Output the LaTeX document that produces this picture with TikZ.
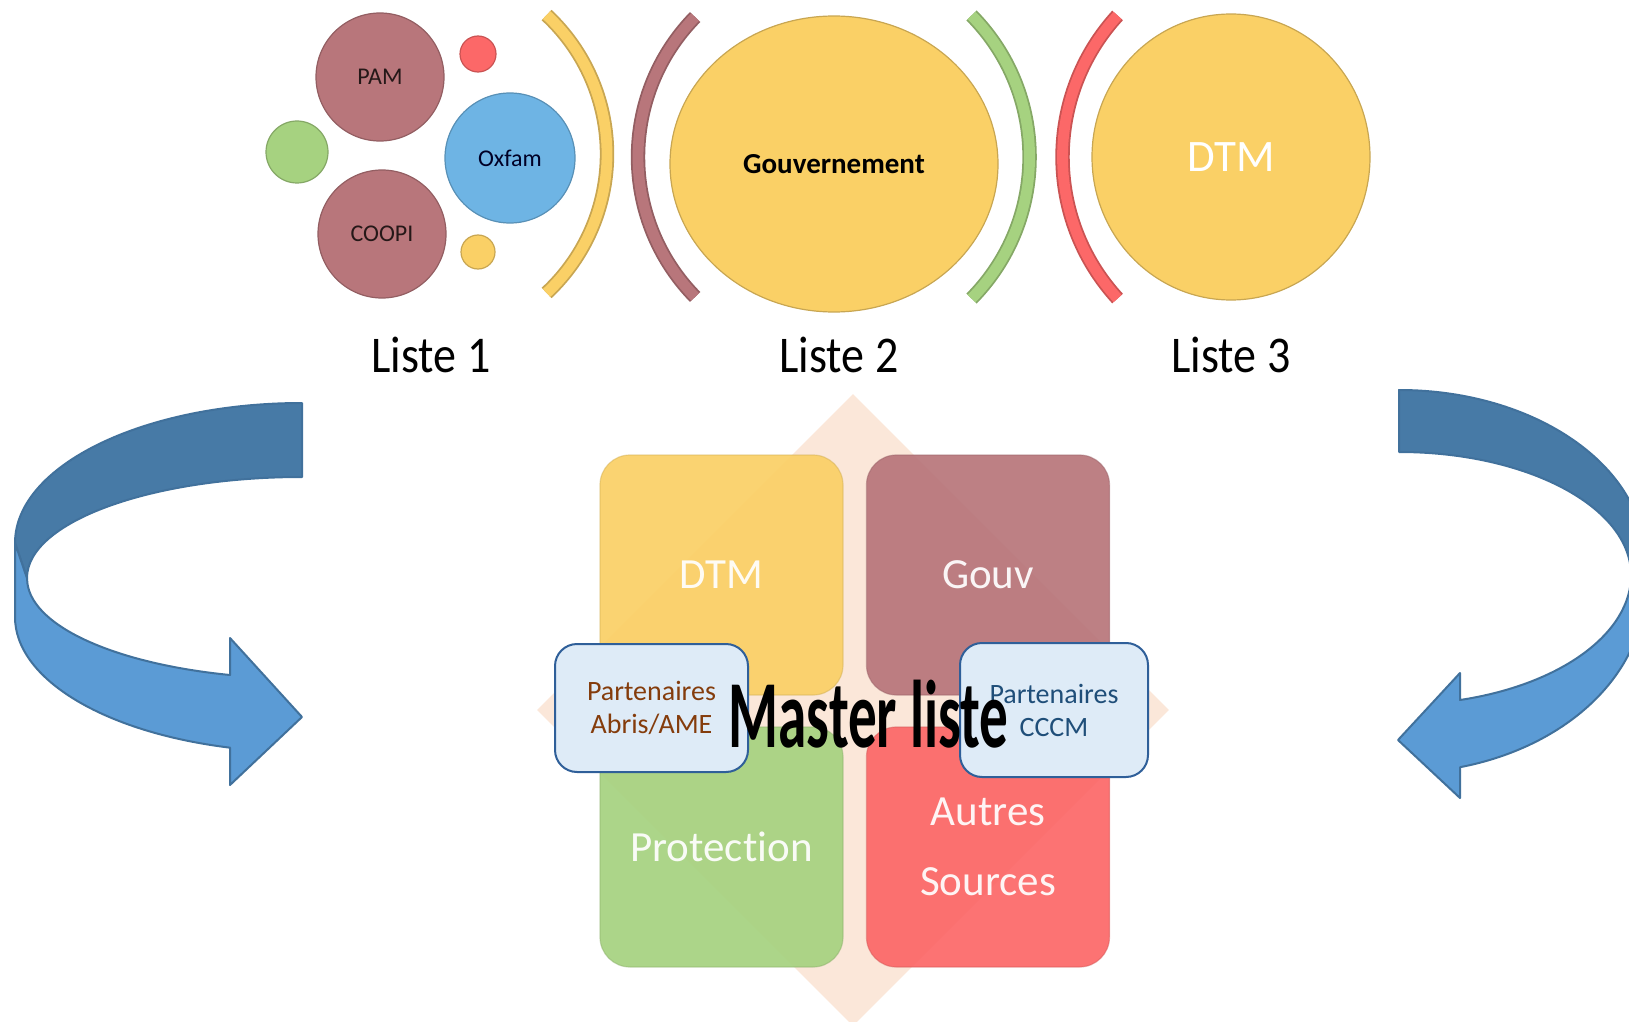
\documentclass[tikz,border=0pt]{standalone}
\usepackage{fontspec}
\setmainfont{Carlito}[Ligatures=NoCommon]
\usetikzlibrary{shapes.geometric,positioning}

\definecolor{sunny}{RGB}{250,208,102}
\definecolor{rosewood}{RGB}{184,118,123}
\definecolor{skyblob}{RGB}{110,180,228}
\definecolor{leafy}{RGB}{166,210,128}
\definecolor{coral}{RGB}{252,104,104}
\definecolor{peach}{RGB}{251,231,217}
\definecolor{arrowback}{RGB}{71,122,166}
\definecolor{arrowfront}{RGB}{91,155,213}
\definecolor{arrowline}{RGB}{65,113,156}
\definecolor{notefill}{RGB}{222,235,247}
\definecolor{noteline}{RGB}{47,95,153}
\definecolor{rusttext}{RGB}{132,60,12}
\definecolor{navytext}{RGB}{31,78,121}

\tikzset{
	bubble/.style={circle,inner sep=0pt,fill=#1,draw=#1!80!black,line width=0.6pt},
	blob/.style={ellipse,inner sep=0pt,fill=#1,draw=#1!80!black,line width=0.6pt},
	bracket/.style={draw=#1!80!black,line width=0.9pt,double=#1,double distance=5.4pt},
	ribbon/.style={fill=#1,draw=arrowline,line width=1pt,line join=round},
	tile/.style={fill=#1,fill opacity=0.93,draw=#1!85!black,draw opacity=0.5,line width=0.6pt,
		rounded corners=15pt,inner sep=0pt,minimum width=121.5pt,minimum height=120pt,
		text=white,font=\fontsize{21.5}{35}\selectfont,align=center},
	note/.style={fill=notefill,draw=noteline,line width=1pt,rounded corners=11pt,inner sep=0pt,
		align=center,font=\fontsize{14}{16.5}\selectfont},
	liste/.style={anchor=base,font=\fontsize{23}{26}\selectfont}
}

\begin{document}
\begin{tikzpicture}[x=0.5pt,y=-0.5pt]
		\useasboundingbox (0,0) rectangle (1629,1022);

		\draw[ribbon=arrowback]
			(302,403) arc[start angle=270,end angle=180,x radius=287,y radius=140]
			-- (27,578) arc[start angle=180,end angle=270,x radius=275,y radius=101] -- cycle;
		\draw[ribbon=arrowfront]
			(15,543) -- (15,617) arc[start angle=180,end angle=104.5,x radius=287,y radius=135]
			-- (230,785) -- (302,717) -- (230,638) -- (230,675)
			arc[start angle=105.2,end angle=180,x radius=275,y radius=100] -- cycle;

		\draw[ribbon=arrowback]
			(1399,390) arc[start angle=270,end angle=360,x radius=246,y radius=170]
			-- (1631,575) arc[start angle=0,end angle=-90,x radius=232,y radius=123] -- cycle;
		\draw[ribbon=arrowfront]
			(1645,560) -- (1645,588) arc[start angle=0,end angle=75.6,x radius=246,y radius=185]
			-- (1460,798) -- (1398,740) -- (1460,673) -- (1460,700)
			arc[start angle=74.8,end angle=0,x radius=232,y radius=130] -- cycle;

		\node[bubble=rosewood,minimum size=64pt,text=black!80!rosewood,font=\fontsize{12}{14}\selectfont] (pam) at (380,77) {PAM};
		\node[bubble=rosewood,minimum size=64pt,text=black!80!rosewood,font=\fontsize{12}{14}\selectfont] (coopi) at (382,234) {COOPI};
		\node[bubble=skyblob,minimum size=65pt,text=black!85!blue,font=\fontsize{12}{14}\selectfont] (oxfam) at (510,158) {Oxfam};
		\node[bubble=leafy,minimum size=31pt] (dotgreen) at (297,152) {};
		\node[bubble=coral,minimum size=18pt] (dotred) at (478,54) {};
		\node[bubble=sunny,minimum size=17pt] (dotyellow) at (478,252) {};

		\draw[bracket=sunny] ([shift={(-47:190)}]417,154) arc[start angle=-47,end angle=47,radius=190];
		\draw[bracket=rosewood] ([shift={(135.6:200)}]838,157) arc[start angle=135.6,end angle=224.4,radius=200];
		\draw[bracket=leafy] ([shift={(-44.6:201.6)}]828,157) arc[start angle=-44.6,end angle=44.6,radius=201.6];
		\draw[bracket=coral] ([shift={(137.5:209.5)}]1272,157) arc[start angle=137.5,end angle=222.5,radius=209.5];

		\node[blob=sunny,minimum width=164pt,minimum height=148pt,font=\fontsize{14.5}{17}\selectfont\bfseries] (gouv) at (834,164) {Gouvernement};
		\node[blob=sunny,minimum width=139pt,minimum height=143pt,text=white,font=\fontsize{22.5}{26}\selectfont] (dtm) at (1231,157) {DTM};

		\node[liste] (liste1) at (431,372) {\scalebox{1}[1.12]{Liste 1}};
		\node[liste] (liste2) at (839,372) {\scalebox{1}[1.12]{Liste 2}};
		\node[liste] (liste3) at (1231,372) {\scalebox{1}[1.12]{Liste 3}};

		\node[diamond,fill=peach,inner sep=0pt,minimum width=316pt,minimum height=316pt] (backdrop) at (853,710) {};

		\node[tile=sunny] (tdtm) at (721.5,575) {DTM};
		\node[tile=rosewood] (tgouv) at (988,575) {Gouv};
		\node[tile=leafy] (tprot) at (721.5,847) {Protection};
		\node[tile=coral] (tautres) at (988,847) {Autres\\Sources};

		\node[note,minimum width=96.5pt,minimum height=64pt,text=rusttext] (abris) at (651.5,708) {Partenaires\\Abris/AME};
		\node[note,minimum width=94pt,minimum height=67pt,text=navytext] (cccm) at (1054,710) {Partenaires\\CCCM};

		\node[anchor=base,inner sep=0pt,font=\fontsize{28.6}{30}\selectfont\bfseries] (master) at (868.5,747) {\scalebox{1}[1.68]{Master liste}};
\end{tikzpicture}
\end{document}
